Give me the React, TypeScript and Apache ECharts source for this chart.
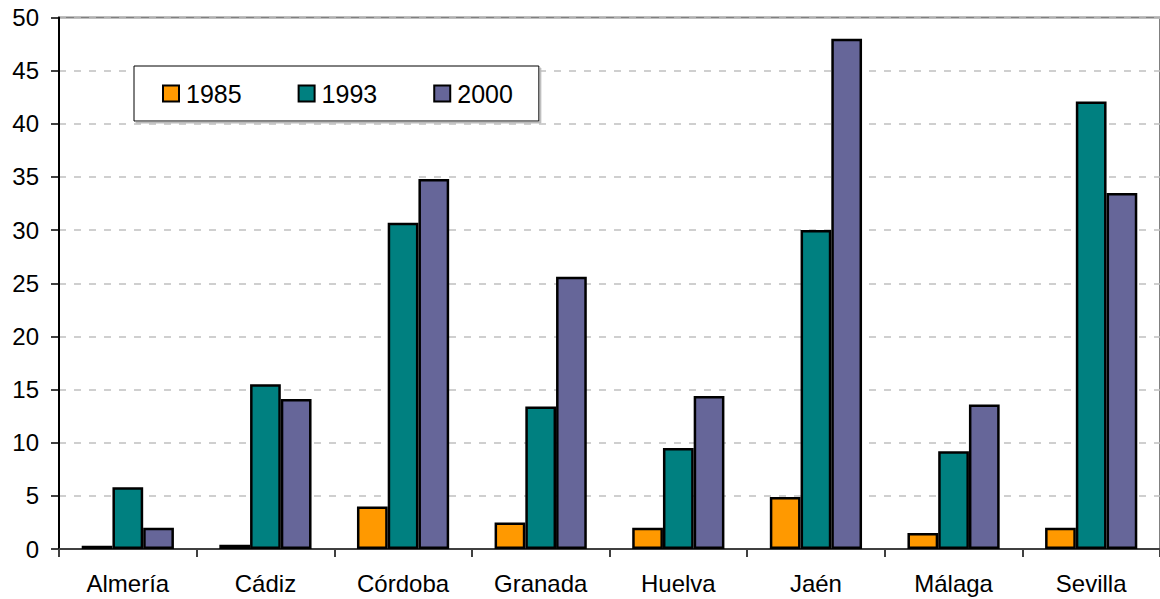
import React, { useEffect, useRef } from "react";
import * as echarts from "echarts";

const categories = ["Almería", "Cádiz", "Córdoba", "Granada", "Huelva", "Jaén", "Málaga", "Sevilla"];
const seriesNames = ["1985", "1993", "2000"];
const values1985 = [0.3, 0.4, 4.0, 2.5, 2.0, 4.9, 1.5, 2.0];
const values1993 = [5.8, 15.5, 30.7, 13.4, 9.5, 30.0, 9.2, 42.1];
const values2000 = [2.0, 14.1, 34.8, 25.6, 14.4, 48.0, 13.6, 33.5];
const colors = ["#FF9900", "#008080", "#666699"];

const FONT = "'Liberation Sans', Arial, sans-serif";

export default function App() {
  const ref = useRef<HTMLDivElement>(null);
  useEffect(() => {
    if (!ref.current) return;
    const chart = echarts.init(ref.current, null, { renderer: "svg" });
    const data = [values1985, values1993, values2000];
    chart.setOption({
      animation: false,
      backgroundColor: "#ffffff",
      textStyle: { fontFamily: FONT, color: "#000" },
      grid: {
        left: 59,
        top: 17.5,
        bottom: 50,
        right: -6,
        show: true,
        borderColor: "#808080",
        borderWidth: 2,
        backgroundColor: "transparent",
      },
      legend: {
        data: seriesNames,
        left: 134,
        top: 66,
        orient: "horizontal",
        padding: [15, 26, 15, 28],
        itemGap: 56,
        itemWidth: 16,
        itemHeight: 16,
        icon: "rect",
        backgroundColor: "#ffffff",
        borderColor: "#000",
        borderWidth: 1,
        shadowColor: "#bbbbbb",
        shadowOffsetX: 2,
        shadowOffsetY: 2,
        shadowBlur: 0,
        textStyle: { fontSize: 25, color: "#000", fontFamily: FONT, padding: [0, 0, 0, 2] },
      },
      xAxis: {
        type: "category",
        data: categories,
        axisLine: { lineStyle: { color: "#404040", width: 2 } },
        axisTick: { show: true, length: 8, lineStyle: { color: "#404040", width: 2 } },
        axisLabel: { fontSize: 24, color: "#000", fontFamily: FONT, margin: 22 },
        splitLine: { show: false },
      },
      yAxis: {
        type: "value",
        min: 0,
        max: 50,
        interval: 5,
        axisLine: { show: true, lineStyle: { color: "#000", width: 2 } },
        axisTick: { show: true, length: 8, lineStyle: { color: "#000", width: 1.5 } },
        axisLabel: { fontSize: 24, color: "#000", fontFamily: FONT, margin: 20 },
        splitLine: { show: true, lineStyle: { color: "#c0c0c0", type: [7, 8], width: 1.5 } },
      },
      series: seriesNames.map((name, i) => ({
        name,
        type: "bar",
        data: data[i],
        barGap: "0%",
        barCategoryGap: "33%",
        itemStyle: { color: colors[i], borderColor: "#000", borderWidth: 2.5 },
      })),
    });
    return () => chart.dispose();
  }, []);
  return (
    <div
      ref={ref}
      style={{ position: "fixed", left: 0, top: 0, width: 1160, height: 599 }}
    />
  );
}
